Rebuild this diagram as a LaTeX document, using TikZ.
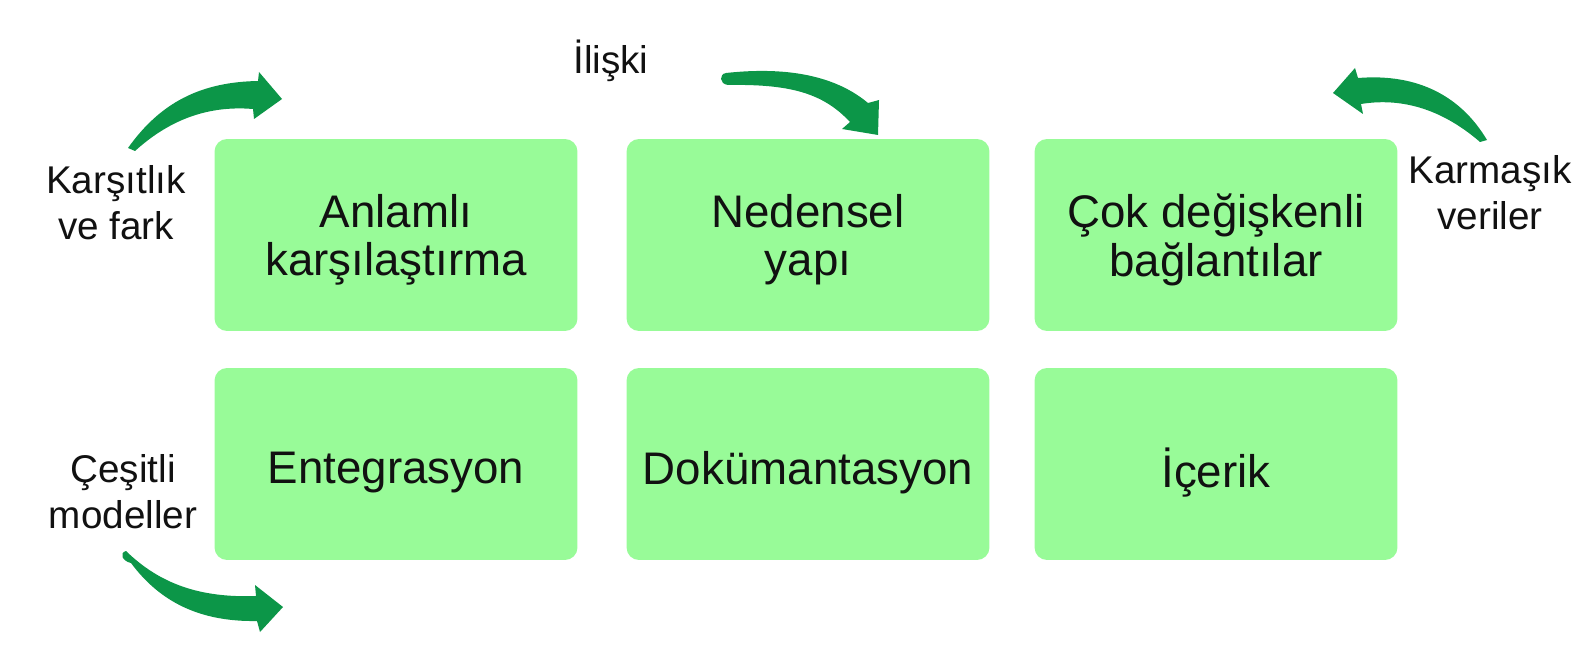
\documentclass[tikz,border=0pt]{standalone}
\usepackage{fontspec}
\setmainfont{Liberation Sans}
\usepackage{tikz}
\usetikzlibrary{positioning}
\definecolor{boxgreen}{RGB}{152,251,152}
\definecolor{arrowgreen}{RGB}{12,150,72}
\definecolor{ink}{RGB}{17,17,17}

\begin{document}
\begin{tikzpicture}[x=0.02cm, y=-0.02cm,
  box/.style={rectangle, rounded corners=0.25cm, fill=boxgreen, draw=none,
    minimum width=7.26cm, minimum height=3.84cm},
  boxtext/.style={align=center, text=ink, font=\fontsize{26}{27.5}\selectfont},
  side/.style={align=center, text=ink, font=\fontsize{22}{26}\selectfont},
  bendarrow/.style={fill=arrowgreen, draw=none}]

\useasboundingbox (0,0) rectangle (1584,672);

%---------------------------------------
% Boxes
%---------------------------------------
\node[box, label={[boxtext, yshift=-0.1cm]center:Anlamlı\\karşılaştırma}] (anlamli) at (396,235) {};
\node[box, label={[boxtext, yshift=-0.1cm]center:Nedensel\\yapı}] (nedensel) at (808,235) {};
\node[box, label={[boxtext, yshift=-0.1cm]center:Çok değişkenli\\bağlantılar}] (cok) at (1216,235) {};

\node[box, label={[boxtext, yshift=-0.18cm]center:Entegrasyon}] (entegrasyon) at (396,464) {};
\node[box, label={[boxtext, yshift=-0.18cm]center:Dokümantasyon}] (dokuman) at (808,464) {};
\node[box, label={[boxtext, yshift=-0.18cm]center:İçerik}] (icerik) at (1216,464) {};

%---------------------------------------
% Side labels
%---------------------------------------
\node[side] (karsitlik) at (116,203) {Karşıtlık\\ve fark};
\node[side] (iliski) at (611,61) {İlişki};
\node[side] (karmasik) at (1490,193) {Karmaşık\\veriler};
\node[side] (cesitli) at (123,492) {Çeşitli\\modeller};

%---------------------------------------
% Curved arrows
%---------------------------------------
% top left
\fill[bendarrow] (128,148) .. controls (160,103) and (200,82) .. (258,81)
  -- (259,72) -- (282,99) -- (254,119) -- (253,109)
  .. controls (205,105) and (167,122) .. (135,151) -- cycle;

% top middle
\fill[bendarrow] (726,73) .. controls (790,66) and (837,77) .. (868,103)
  -- (879,100) -- (878,135) -- (842,129) -- (850,122)
  .. controls (823,93) and (790,84) .. (728,85)
  .. controls (719,84) and (719,74) .. (726,73) -- cycle;

% top right
\fill[bendarrow] (1487,140) .. controls (1462,98) and (1420,73) .. (1358,78)
  -- (1355,68) -- (1333,93) -- (1363,114) -- (1361,104)
  .. controls (1410,96) and (1450,116) .. (1480,142) -- cycle;

% bottom left
\fill[bendarrow] (126,551) .. controls (160,584) and (200,598) .. (256,596)
  -- (255,585) -- (283,607) -- (260,632) -- (257,621)
  .. controls (200,622) and (160,602) .. (131,563)
  .. controls (122,561) and (119,553) .. (126,551) -- cycle;

\end{tikzpicture}
\end{document}
